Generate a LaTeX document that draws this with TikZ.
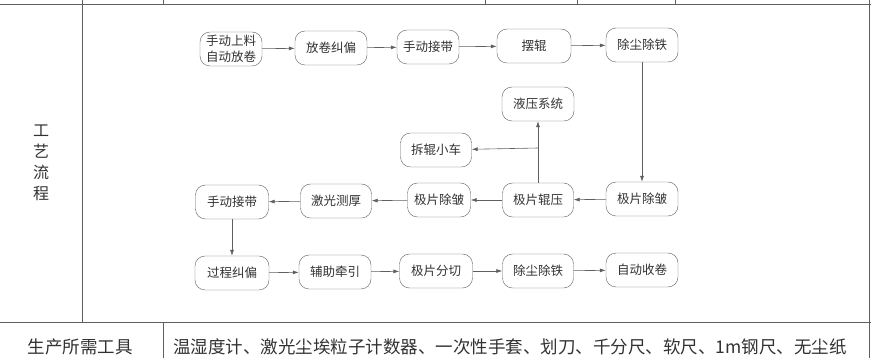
\documentclass[tikz,border=0pt]{standalone}
\usepackage{fontspec}
\setmainfont{Noto Sans CJK SC}
\usetikzlibrary{positioning,arrows.meta,calc}
\definecolor{rule}{RGB}{95,95,95}
\definecolor{ink}{RGB}{50,50,50}

\begin{document}
\begin{tikzpicture}[x=1pt,y=-1pt,
  n/.style={draw=rule, rounded corners=10pt, align=center, inner sep=2pt,
    minimum width=72pt, minimum height=34pt, text=ink,
    font=\fontsize{12.5}{15}\selectfont},
  e/.style={-{Latex[length=6pt,width=4pt]}, draw=rule, line width=0.6pt},
  t/.style={draw=rule, line width=1pt}]
  \useasboundingbox (0,0) rectangle (871,358);
  % table frame
  \draw[t] (0,5) -- (871,5);
  \foreach \x in {163,485,577,675} \draw[t] (\x,0) -- (\x,5);
  \draw[t] (82,0) -- (82,323);
  \draw[t] (0,323) -- (871,323);
  \draw[t] (163,323) -- (163,358);
  \draw[t] (869,0) -- (869,358);
  \node[text=ink, align=center, font=\fontsize{16}{21}\selectfont] (lbl) at (41,163) {工\\艺\\流\\程};
  \node[text=ink, font=\fontsize{17.5}{20}\selectfont] (tl) at (80,347) {生产所需工具};
  \node[text=ink, anchor=west, inner sep=0pt, font=\fontsize{17.5}{20}\selectfont] (tools) at (173,347)
    {温湿度计、激光尘埃粒子计数器、一次性手套、划刀、千分尺、软尺、1m钢尺、无尘纸};
  % flow
  \node[n, minimum width=62pt, inner sep=1pt, font=\fontsize{12.5}{16}\selectfont] (sl) at (231,49) {手动上料\\自动放卷};
  \node[n] (fj) at (331,48) {放卷纠偏};
  \node[n, minimum width=62pt] (jd1) at (428,47) {手动接带};
  \node[n, minimum width=74pt] (bg) at (534,46) {摆辊};
  \node[n] (cc1) at (642,45) {除尘除铁};
  \node[n] (yy) at (538,104) {液压系统};
  \node[n, minimum width=71pt] (cl) at (436,150) {拆辊小车};
  \node[n] (cz2) at (642,199) {极片除皱};
  \node[n, minimum width=71pt] (gy) at (538,200) {极片辊压};
  \node[n, minimum width=63pt] (cz1) at (439,200) {极片除皱};
  \node[n, minimum width=71pt] (ch) at (336,201) {激光测厚};
  \node[n, minimum width=73pt] (jd2) at (232,202) {手动接带};
  \node[n, minimum width=74pt] (gc) at (232,273) {过程纠偏};
  \node[n] (fz) at (335,272) {辅助牵引};
  \node[n, minimum width=73pt] (fq) at (436,271) {极片分切};
  \node[n, minimum width=71pt] (cc2) at (538,271) {除尘除铁};
  \node[n] (sj) at (642,270) {自动收卷};
  \coordinate (br) at (538,148);
  \draw[e] (sl) -- (fj);
  \draw[e] (fj) -- (jd1);
  \draw[e] (jd1) -- (bg);
  \draw[e] (bg) -- (cc1);
  \draw[e] (cc1) -- (cz2);
  \draw[e] (cz2) -- (gy);
  \draw[e] (gy) -- (yy);
  \draw[e] (br) -- (cl);
  \draw[e] (gy) -- (cz1);
  \draw[e] (cz1) -- (ch);
  \draw[e] (ch) -- (jd2);
  \draw[e] (jd2) -- (gc);
  \draw[e] (gc) -- (fz);
  \draw[e] (fz) -- (fq);
  \draw[e] (fq) -- (cc2);
  \draw[e] (cc2) -- (sj);
\end{tikzpicture}
\end{document}
